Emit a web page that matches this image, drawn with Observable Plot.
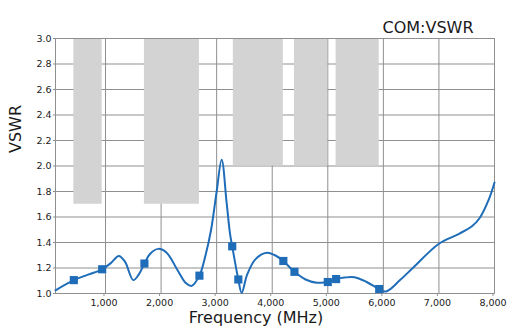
<!DOCTYPE html>
<html>
<head>
<meta charset="utf-8">
<script src="https://cdn.jsdelivr.net/npm/d3@7"></script>
<script src="https://cdn.jsdelivr.net/npm/@observablehq/plot@0.6"></script>
<style>
  html, body { margin: 0; padding: 0; background: #fff; }
  #chart { position: relative; width: 509px; height: 331px; }
</style>
</head>
<body>
<div id="chart"></div>
<script>
// Measured VSWR sweep (frequency in MHz)
const sweepFreq = [100, 430, 700, 940, 1100, 1240, 1350, 1500, 1600, 1700, 1800, 1950, 2100, 2300, 2450, 2550, 2690, 2800, 2900, 3000, 3090, 3180, 3240, 3280, 3390, 3450, 3550, 3700, 3900, 4050, 4200, 4400, 4600, 4800, 4950, 5000, 5150, 5300, 5480, 5700, 5925, 6050, 6300, 6530, 7000, 7370, 7600, 7730, 7900, 8000];
const sweepVswr = [1.025, 1.105, 1.15, 1.19, 1.24, 1.295, 1.25, 1.105, 1.15, 1.235, 1.31, 1.35, 1.32, 1.18, 1.08, 1.06, 1.14, 1.30, 1.50, 1.80, 2.05, 1.71, 1.47, 1.37, 1.11, 1.005, 1.15, 1.27, 1.32, 1.30, 1.255, 1.17, 1.11, 1.085, 1.087, 1.09, 1.113, 1.125, 1.128, 1.09, 1.035, 1.016, 1.105, 1.20, 1.39, 1.47, 1.53, 1.59, 1.74, 1.87];

// Band-edge markers
const markerFreq = [430, 940, 1700, 2690, 3280, 3390, 4200, 4400, 5000, 5150, 5925];
const markerVswr = [1.105, 1.19, 1.235, 1.14, 1.37, 1.11, 1.255, 1.17, 1.09, 1.113, 1.035];

// Specification limit bands: start/end frequency and VSWR limit
const bandStart = [430, 1700, 3300, 4400, 5150];
const bandEnd   = [940, 2690, 4200, 5000, 5925];
const bandLimit = [1.7, 1.7, 2.0, 2.0, 2.0];

const xTicks = [1000, 2000, 3000, 4000, 5000, 6000, 7000, 8000];
const yTicks = [1.0, 1.2, 1.4, 1.6, 1.8, 2.0, 2.2, 2.4, 2.6, 2.8, 3.0];

const sweep = sweepFreq.map((f, i) => ({f, v: sweepVswr[i]}));
const markers = markerFreq.map((f, i) => ({f, v: markerVswr[i]}));
const bands = bandStart.map((s, i) => ({s, e: bandEnd[i], lo: bandLimit[i], hi: 3.0}));

const blue = "#1f6db8";
const grid = "#8f8f8f";
const font = "DejaVu Sans";

const chart = Plot.plot({
  width: 509,
  height: 331,
  marginLeft: 55,
  marginRight: 15,
  marginTop: 38,
  marginBottom: 38,
  style: {fontFamily: font, fontSize: "9.5px", color: "#1a1a1a", background: "#fff"},
  x: {type: "linear", domain: [100, 8000]},
  y: {domain: [1.0, 3.0]},
  marks: [
    Plot.ruleX(xTicks, {stroke: grid, strokeOpacity: 1}),
    Plot.ruleY(yTicks, {stroke: grid, strokeOpacity: 1}),
    Plot.rectY(bands, {x1: "s", x2: "e", y1: "lo", y2: "hi", fill: "#d3d3d3"}),
    Plot.frame({stroke: grid}),
    Plot.axisX(xTicks, {tickFormat: d3.format(","), tickSize: 3, tickPadding: 3, stroke: grid, label: null, dx: -1.5}),
    Plot.axisY(yTicks, {tickFormat: d3.format(".1f"), tickSize: 2, tickPadding: 2, stroke: grid, label: null}),
    Plot.line(sweep, {x: "f", y: "v", stroke: blue, strokeWidth: 2, curve: "catmull-rom"}),
    Plot.dot(markers, {x: "f", y: "v", symbol: "square", r: 4.6, fill: blue, stroke: "none"}),
    Plot.text(["Frequency (MHz)"], {frameAnchor: "bottom", dx: -19, dy: 29, fontSize: 16, fontFamily: font, fill: "#1a1a1a"}),
    Plot.text(["VSWR"], {frameAnchor: "left", dx: -40, dy: -13, rotate: -90, fontSize: 16, fontFamily: font, fill: "#1a1a1a"}),
    Plot.text(["COM:VSWR"], {frameAnchor: "top-right", textAnchor: "end", dx: -21, dy: -17, fontSize: 16, fontFamily: font, fill: "#1a1a1a"})
  ]
});

document.getElementById("chart").appendChild(chart);
</script>
</body>
</html>
